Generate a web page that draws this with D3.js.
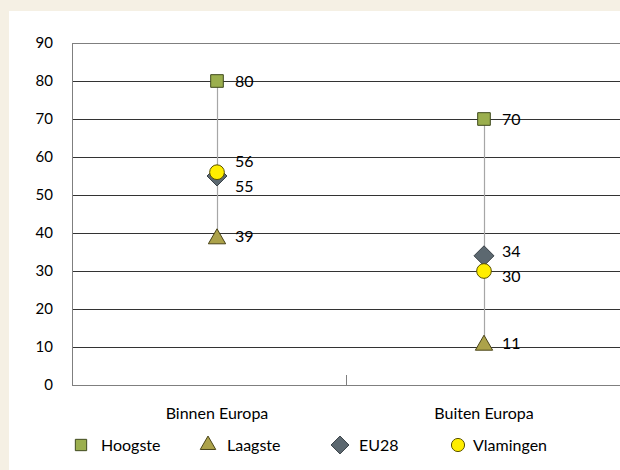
<!DOCTYPE html>
<html><head><meta charset="utf-8">
<script src="https://cdn.jsdelivr.net/npm/d3@7"></script>
<style>
html,body{margin:0;padding:0;background:#F5F0E4;}
svg{display:block;}
text{font-family:Lato,"Open Sans",sans-serif;fill:#000;}
</style></head>
<body>
<svg id="c" width="620" height="470"></svg>
<script>
const categories = ["Binnen Europa", "Buiten Europa"];
const hoogste = [80, 70];
const laagste = [39, 11];
const eu28 = [55, 34];
const vlamingen = [56, 30];
const yTicks = [0, 10, 20, 30, 40, 50, 60, 70, 80, 90];
const seriesNames = ["Hoogste", "Laagste", "EU28", "Vlamingen"];

(function () {
const svg = d3.select("#c");
svg.append("rect").attr("x", 9).attr("y", 11).attr("width", 611).attr("height", 459).attr("fill", "#fff");

const pLeft = 72, pRight = 620, pTop = 43, pBottom = 385;
const y = d3.scaleLinear().domain([0, 90]).range([pBottom, pTop]);
const x = d3.scalePoint().domain(categories).range([217, 484]);

svg.append("g").selectAll("line").data(yTicks).join("line")
  .attr("x1", pLeft).attr("x2", pRight)
  .attr("y1", d => Math.round(y(d)) + 0.5).attr("y2", d => Math.round(y(d)) + 0.5)
  .attr("stroke", d => (d === 0 || d === 90) ? "#7f7f7f" : "#333").attr("stroke-width", 1);

svg.append("line").attr("x1", pLeft + 0.5).attr("x2", pLeft + 0.5).attr("y1", pTop).attr("y2", pBottom)
  .attr("stroke", "#7f7f7f");
const mid = (pLeft + pRight) / 2;
svg.append("line").attr("x1", Math.round(mid) + 0.5).attr("x2", Math.round(mid) + 0.5)
  .attr("y1", pBottom - 10).attr("y2", pBottom).attr("stroke", "#7f7f7f");

svg.append("g").selectAll("text").data(yTicks).join("text")
  .attr("x", 53).attr("y", d => y(d)).attr("dy", "0.35em")
  .attr("text-anchor", "end").attr("font-size", 15).text(d => d);

svg.append("g").selectAll("text").data(categories).join("text")
  .attr("x", d => x(d)).attr("y", 413).attr("dy", "0.35em")
  .attr("text-anchor", "middle").attr("font-size", 16).text(d => d);

svg.append("g").selectAll("line").data(categories).join("line")
  .attr("x1", d => Math.round(x(d)) + 0.5).attr("x2", d => Math.round(x(d)) + 0.5)
  .attr("y1", (d, i) => y(hoogste[i])).attr("y2", (d, i) => y(laagste[i]))
  .attr("stroke", "#a6a6a6").attr("stroke-width", 1.2);

const diamond = {
  draw(ctx, size) {
    const r = Math.sqrt(size / 2);
    ctx.moveTo(0, -r); ctx.lineTo(r, 0); ctx.lineTo(0, r); ctx.lineTo(-r, 0); ctx.closePath();
  }
};
const styles = {
  Hoogste: { sym: d3.symbolSquare, size: 160, fill: "#9BAF4E", stroke: "#3f4a1e" },
  Laagste: { sym: d3.symbolTriangle, size: 130, fill: "#ACA24A", stroke: "#4a4418" },
  EU28: { sym: diamond, size: 200, fill: "#5C6870", stroke: "#3a4248" },
  Vlamingen: { sym: d3.symbolCircle, size: 170, fill: "#FFEE00", stroke: "#5a5200" }
};
const seriesData = { Hoogste: hoogste, Laagste: laagste, EU28: eu28, Vlamingen: vlamingen };

seriesNames.forEach(name => {
  const st = styles[name];
  svg.append("g").selectAll("path").data(categories).join("path")
    .attr("transform", (d, i) => `translate(${x(d)},${y(seriesData[name][i]) + (name === "Laagste" ? 2 : 0)})`)
    .attr("d", d3.symbol().type(st.sym).size(st.size))
    .attr("fill", st.fill).attr("stroke", st.stroke).attr("stroke-width", 1);
});

categories.forEach((c, i) => {
  const labs = seriesNames.map(n => ({ v: seriesData[n][i], y: y(seriesData[n][i]) }))
    .sort((a, b) => a.y - b.y);
  const gap = 25;
  for (let k = 1; k < labs.length; k++) {
    if (labs[k].y - labs[k - 1].y < gap) {
      const m = (labs[k].y + labs[k - 1].y) / 2;
      labs[k - 1].y = m - gap / 2; labs[k].y = m + gap / 2;
    }
  }
  svg.append("g").selectAll("text").data(labs).join("text")
    .attr("x", x(c) + 18).attr("y", d => d.y).attr("dy", "0.35em")
    .attr("font-size", 16).text(d => d.v);
});

const legX = [81, 208, 340, 458];
const lg = svg.append("g").selectAll("g").data(seriesNames).join("g")
  .attr("transform", (d, i) => `translate(${legX[i]},445)`);
lg.append("path").attr("d", d => d3.symbol().type(styles[d].sym).size(styles[d].size * 0.8)())
  .attr("fill", d => styles[d].fill).attr("stroke", d => styles[d].stroke);
lg.append("text").attr("x", (d, i) => [20, 19, 19, 15][i]).attr("dy", "0.35em")
  .attr("font-size", 16).text(d => d);
})();
</script>
</body></html>
